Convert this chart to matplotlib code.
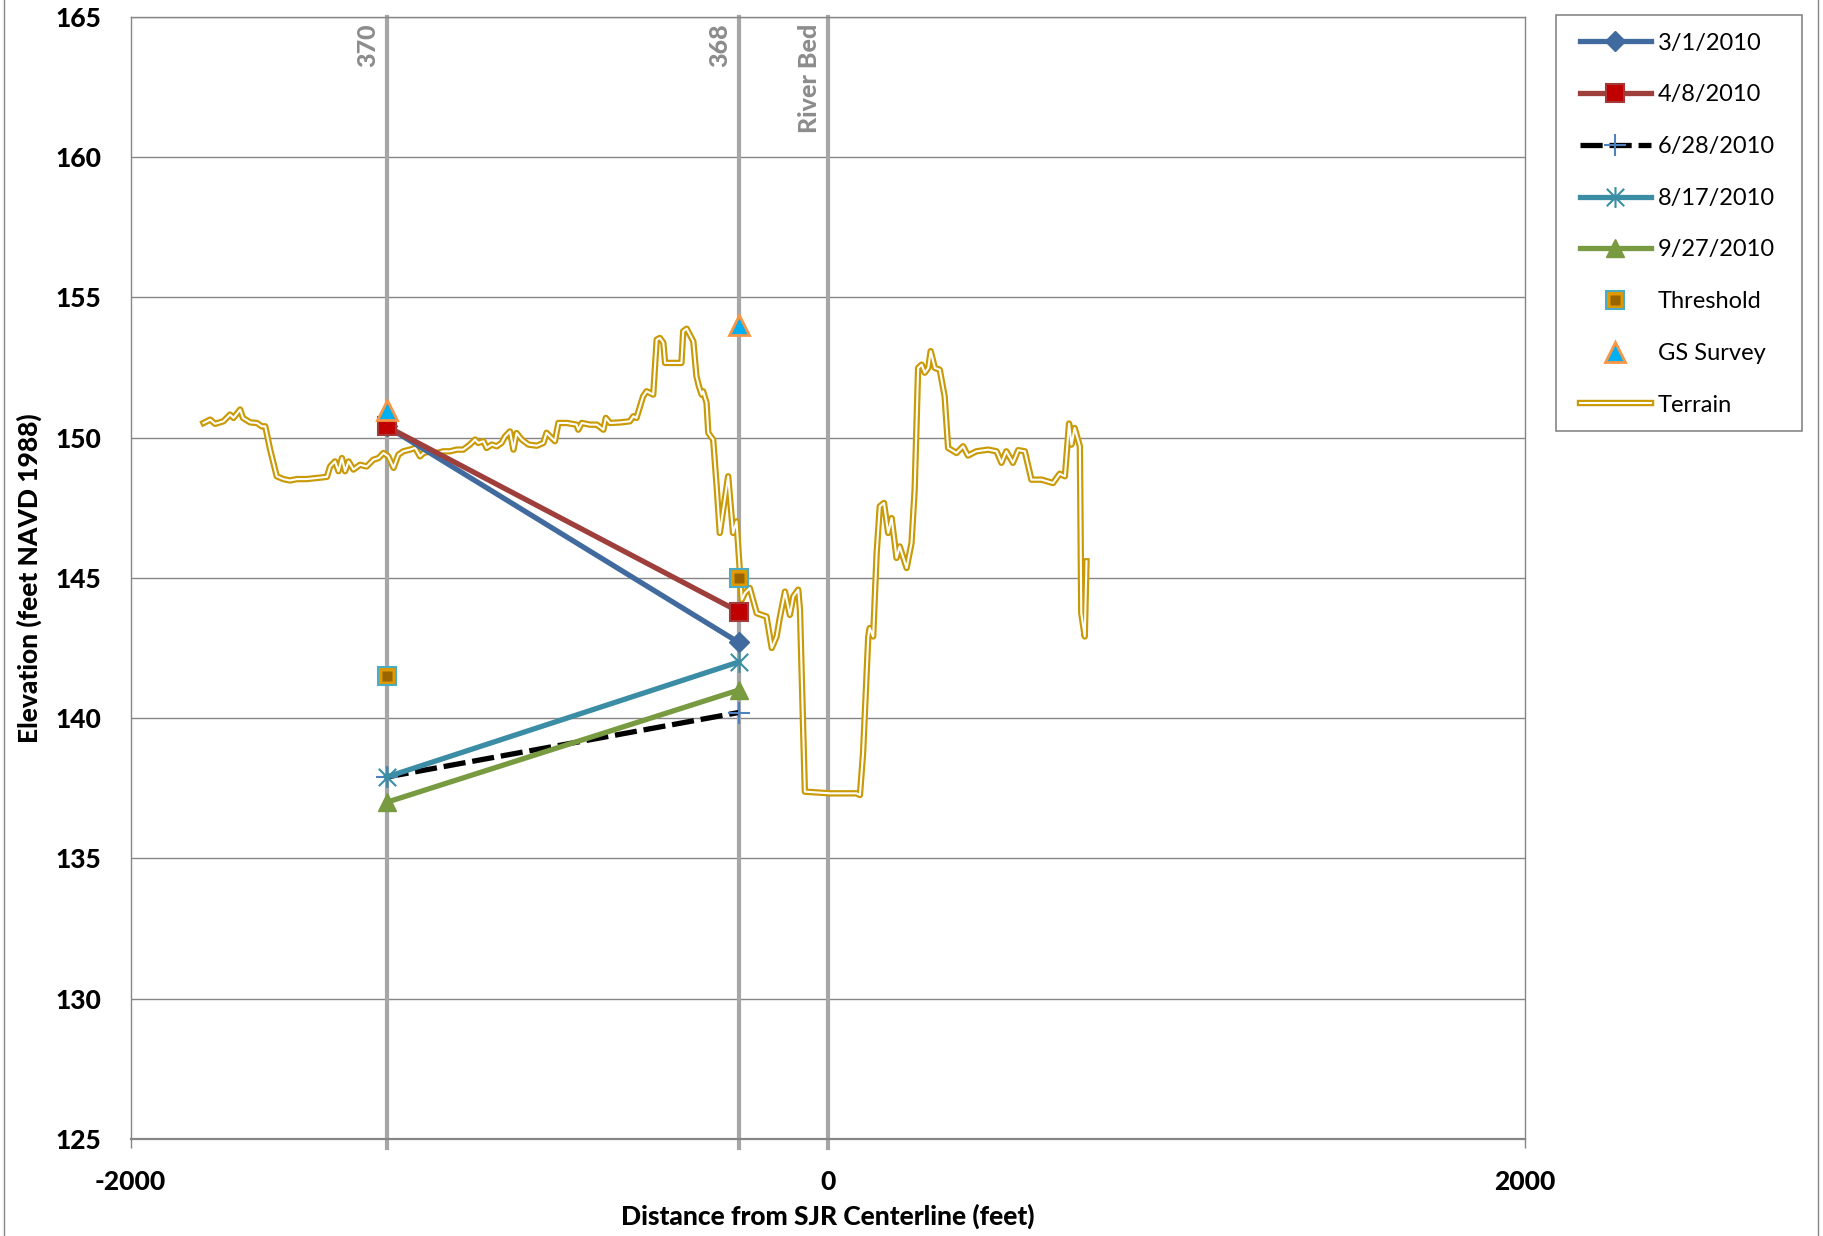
import matplotlib
matplotlib.use('Agg')
import matplotlib.pyplot as plt
import matplotlib.transforms as mtransforms
from matplotlib.legend_handler import HandlerTuple
from matplotlib.path import Path
from matplotlib.patches import Rectangle

plt.rcParams['font.family'] = ['Lato', 'DejaVu Sans']
plt.rcParams['axes.unicode_minus'] = False

# well / reference positions (feet from SJR centerline)
ref_names = ['370', '368', 'River Bed']
ref_x = [-1266, -256, 0]

# groundwater elevation at wells 370 and 368
dates = ['3/1/2010', '4/8/2010', '6/28/2010', '8/17/2010', '9/27/2010']
elev_370 = [150.4, 150.4, 137.9, 137.9, 137.0]
elev_368 = [142.7, 143.8, 140.2, 142.0, 141.0]
threshold = [141.5, 145.0]
gs_survey = [151.0, 154.0]

# ground profile
terrain_x = [-1791, -1772, -1758, -1734, -1715, -1705, -1686, -1678, -1657, -1638,
             -1624, -1614, -1600, -1581, -1562, -1543, -1523, -1495, -1466, -1437,
             -1428, -1414, -1404, -1394, -1385, -1375, -1361, -1342, -1323, -1304,
             -1289, -1275, -1261, -1246, -1232, -1218, -1199, -1184, -1170, -1160,
             -1141, -1122, -1103, -1084, -1065, -1046, -1027, -1012, -1003, -988,
             -979, -964, -950, -936, -926, -912, -902, -893,
             -878, -859, -835, -816, -807, -783, -773, -749, -721, -716,
             -706, -682, -663, -644, -637, -625, -596, -568, -558, -549,
             -530, -520, -501, -491, -482, -472, -467, -420, -415, -405,
             -396, -386, -377, -370, -362, -358, -348, -343, -333,
             -329, -319, -310, -286, -272, -262, -252, -247, -238, -224,
             -204, -176, -161, -147, -138, -123, -109, -99, -85, -80,
             -66, 6, 82,
             92, 101, 116, 120, 130, 140, 149, 161, 173, 183,
             197, 206, 226, 240, 249, 259, 269, 278, 288, 295,
             307, 321, 335, 345, 369, 388, 402, 426, 460, 484,
             498, 512, 531, 546, 565, 584, 613, 646, 665, 680,
             692, 699, 708, 723, 727, 737, 742]
terrain_y = [150.52, 150.64, 150.49, 150.58, 150.82, 150.70, 151.00, 150.70, 150.54, 150.52,
             150.40, 150.40, 149.57, 148.62, 148.52, 148.47, 148.52, 148.52, 148.56, 148.60,
             148.97, 149.15, 148.80, 149.27, 148.80, 149.15, 148.86, 149.03, 148.97, 149.21,
             149.27, 149.45, 149.33, 148.92, 149.39, 149.51, 149.57, 149.63, 149.33, 149.45,
             149.51, 149.45, 149.51, 149.51, 149.57, 149.57, 149.75, 149.93, 149.81, 149.87,
             149.63, 149.75, 149.69, 149.81, 150.04, 150.22, 149.57, 150.16,
             149.93, 149.75, 149.71, 149.81, 150.17, 149.87, 150.52, 150.52, 150.46, 150.28,
             150.52, 150.46, 150.46, 150.28, 150.70, 150.52, 150.54, 150.58, 150.76, 150.70,
             151.47, 151.65, 151.53, 153.49, 153.55, 153.38, 152.66, 152.66, 153.79, 153.88,
             153.67, 153.43, 152.19, 151.83, 151.53, 151.65, 151.24, 150.17, 149.99,
             149.93, 148.26, 146.60, 148.62, 146.60, 147.01, 145.17, 144.22, 144.46, 144.64,
             143.74, 143.62, 142.50, 142.91, 143.57, 144.51, 143.68, 144.34, 144.58, 143.86,
             137.38, 137.32, 137.32,
             137.26, 138.75, 142.91, 143.21, 142.91, 145.88, 147.55, 147.67, 146.60, 147.13,
             145.71, 146.12, 145.35, 146.24, 148.14, 152.48, 152.60, 152.31, 152.48, 153.08,
             152.48, 152.42, 151.47, 149.63, 149.45, 149.69, 149.36, 149.51, 149.57, 149.51,
             149.10, 149.51, 149.10, 149.55, 149.51, 148.50, 148.50, 148.38, 148.71, 148.62,
             150.50, 149.75, 150.34, 149.69, 143.74, 142.91, 145.59]

W, H = 1824, 1236
fig = plt.figure(figsize=(W / 100, H / 100), dpi=100)
ax = fig.add_axes([130.7 / W, 1 - 1139 / H, (1525 - 130.7) / W, (1139 - 16.7) / H])

grid_c = '#868686'
gold = '#C99A06'
heavy = 900

# reference verticals
for x in ref_x:
    ax.axvline(x, ymin=-0.008, color='#A6A6A6', lw=3, zorder=2, clip_on=False)
off = mtransforms.offset_copy(ax.transData, fig=fig, x=-7, y=-7, units='dots')
for name, x in zip(ref_names, ref_x):
    ax.text(x, 165, name, transform=off, rotation=90, ha='right', va='top',
            color='#8C8C8C', fontsize=18, fontweight=heavy)

# terrain as double line
t_out, = ax.plot(terrain_x, terrain_y, color=gold, lw=4.6, zorder=3, solid_joinstyle='round')
t_in, = ax.plot(terrain_x, terrain_y, color='white', lw=1.5, zorder=3.1, solid_joinstyle='round')

star = Path([(-1, -1), (1, 1), (-1, 1), (1, -1), (0, -1.2), (0, 1.2)],
            [Path.MOVETO, Path.LINETO, Path.MOVETO, Path.LINETO, Path.MOVETO, Path.LINETO])

styles = [
    dict(color='#416A9E', marker='D', ms=10, mfc='#416A9E', mec='#416A9E', ls='-'),
    dict(color='#9E3F3C', marker='s', ms=13, mfc='#C00000', mec='#A33A3A', mew=1.5, ls='-'),
    dict(color='black', marker='+', ms=16, mec='#4F81BD', mew=1.5, ls=(0, (4.2, 1.3))),
    dict(color='#3A8DA4', marker=star, ms=15, mfc='none', mec='#3A8DA4', mew=1.5, ls='-'),
    dict(color='#789A40', marker='^', ms=13, mfc='#789A40', mec='#789A40', ls='-'),
]
handles = []
xs = [ref_x[0], ref_x[1]]
for i, lab in enumerate(dates):
    h, = ax.plot(xs, [elev_370[i], elev_368[i]], lw=3.8, zorder=5, label=lab, **styles[i])
    handles.append(h)

thr_o, = ax.plot(xs, threshold, ls='none', marker='s', ms=13, mfc='#E09A00', mec='#4BACC6',
                 mew=1.5, zorder=6)
thr_i, = ax.plot(xs, threshold, ls='none', marker='s', ms=7.5, mfc='#9A6400', mec='none', zorder=6.1)
gs, = ax.plot(xs, gs_survey, ls='none', marker='^', ms=15, mfc='#00B0F0', mec='#F79646',
              mew=2, zorder=6)
handles += [(thr_o, thr_i), gs, (t_out, t_in)]
labels = dates + ['Threshold', 'GS Survey', 'Terrain']

ax.set_xlim(-2000, 2000)
ax.set_ylim(125, 165)
ax.set_xticks([-2000, 0, 2000])
ax.set_yticks(range(125, 166, 5))
ax.yaxis.grid(True, color=grid_c, lw=1.0)
ax.set_axisbelow(True)
for s in ax.spines.values():
    s.set_color(grid_c)
    s.set_linewidth(1.0)
ax.spines['bottom'].set_linewidth(1.6)
ax.tick_params(axis='y', length=0, pad=21, labelsize=19)
ax.tick_params(axis='x', length=6.5, width=1, color=grid_c, pad=16, labelsize=19)
for t in ax.get_xticklabels() + ax.get_yticklabels():
    t.set_fontweight(heavy)

fig.text(828 / W, 1 - 1216 / H, 'Distance from SJR Centerline (feet)', ha='center', va='center',
         fontsize=19, fontweight=heavy)
fig.text(29 / W, 1 - 578 / H, 'Elevation (feet NAVD 1988)', ha='center', va='center',
         rotation=90, fontsize=19, fontweight=heavy)

# legend: entries placed without frame, box drawn separately
leg = fig.legend(handles, labels, loc='upper left',
                 bbox_to_anchor=(1580 / W, 1 - 32.7 / H),
                 bbox_transform=fig.transFigure, borderaxespad=0, borderpad=0,
                 frameon=False, fontsize=17,
                 handlelength=3.0, handletextpad=0.3, labelspacing=1.3,
                 numpoints=1, handler_map={tuple: HandlerTuple(ndivide=1, pad=0)})
fig.add_artist(Rectangle((1556 / W, 1 - 431 / H), 246 / W, 416 / H, transform=fig.transFigure,
                         fill=False, edgecolor=grid_c, lw=1.2))

fig.add_artist(Rectangle((4.5 / W, -0.02), (1818 - 4.5) / W, 1.05, transform=fig.transFigure,
                         fill=False, edgecolor=grid_c, lw=1))

fig.savefig('out.png', dpi=100)
